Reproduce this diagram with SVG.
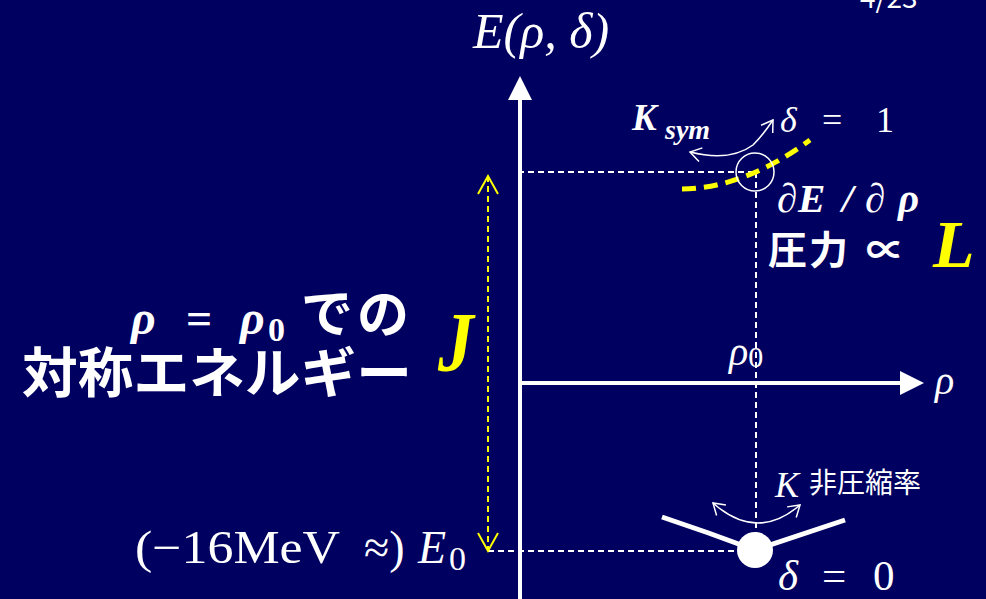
<svg xmlns="http://www.w3.org/2000/svg" width="986" height="599" viewBox="0 0 986 599">
<style>
.m{font-family:"Liberation Serif","DejaVu Serif",serif;fill:#fff}
.i{font-style:italic}
.b{font-weight:bold}
.s{font-family:"Noto Sans CJK JP","Noto Sans",sans-serif;fill:#fff}
.y{fill:#ff0}
.dash{stroke:#fff;stroke-width:2;stroke-dasharray:6 4;fill:none}
.ax{stroke:#fff;stroke-width:4;fill:none}
.thin{fill:none;stroke:#fff;stroke-width:1.5}
</style>
<defs>
<marker id="ah" markerWidth="6" markerHeight="6" refX="4" refY="3" orient="auto" markerUnits="strokeWidth"><path d="M0,0 L6,3 L0,6 Z" fill="#fff"/></marker>
<marker id="oa" markerWidth="16" markerHeight="16" refX="13" refY="8" orient="auto-start-reverse" markerUnits="userSpaceOnUse"><path d="M2,1 L13,8 L2,15" fill="none" stroke="#fff" stroke-width="1.5"/></marker>
<marker id="ya" markerWidth="22" markerHeight="22" refX="19" refY="11" orient="auto-start-reverse" markerUnits="userSpaceOnUse"><path d="M1,1 L19,11 L1,21" fill="none" stroke="#ff0" stroke-width="2"/></marker>
</defs>
<rect width="986" height="599" fill="#000060"/>
<g id="connectors">
<line class="ax" x1="520" y1="599" x2="520" y2="84" marker-end="url(#ah)"/>
<line class="ax" x1="520" y1="383" x2="916" y2="383" marker-end="url(#ah)"/>
<line class="dash" x1="518" y1="172" x2="756" y2="172"/>
<line class="dash" x1="756" y1="172" x2="756" y2="545"/>
<line class="dash" x1="488" y1="551" x2="740" y2="551"/>
<line x1="488" y1="176" x2="488" y2="551" stroke="#ff0" stroke-width="2" stroke-dasharray="6 4" marker-start="url(#ya)" marker-end="url(#ya)"/>
<path d="M682,189 Q745,188 810,140" fill="none" stroke="#ff0" stroke-width="5" stroke-dasharray="14 8"/>
<circle cx="755" cy="172" r="19" class="thin"/>
<path d="M690,152 Q730,162 753,145 Q763,135 773,120" class="thin" marker-start="url(#oa)" marker-end="url(#oa)"/>
<path d="M662,517 Q710,533 755,550 Q800,535 845,520" fill="none" stroke="#fff" stroke-width="5"/>
<circle cx="755" cy="550" r="18" fill="#fff"/>
<path d="M713,503 Q757,542 800,505" class="thin" marker-start="url(#oa)" marker-end="url(#oa)"/>
</g>
<g id="labels">
<text class="s" x="860" y="8" font-size="28">4/23</text>
<text class="m i" x="473" y="48" font-size="50">E(ρ, δ)</text>
<text class="m b i" x="632" y="130" font-size="37">K</text>
<text class="m b i" x="665" y="139" font-size="28">sym</text>
<text class="m" y="132" font-size="36"><tspan class="i" x="780">δ</tspan><tspan x="822">=</tspan><tspan x="876">1</tspan></text>
<text class="m b i" y="212" font-size="41"><tspan x="777">∂</tspan><tspan x="798">E</tspan><tspan x="842">/</tspan><tspan x="865">∂</tspan><tspan x="898">ρ</tspan></text>
<text class="s b" x="768" y="264" font-size="39" letter-spacing="2">圧力</text>
<text class="s b" x="866" y="264" font-size="39">∝</text>
<text class="m b i y" x="933" y="267" font-size="68">L</text>
<text class="m i" x="729" y="365" font-size="40">ρ<tspan font-style="normal" font-size="30" dy="2">0</tspan></text>
<text class="m i" x="935" y="394" font-size="40">ρ</text>
<text class="m b i" x="131" y="334" font-size="48">ρ</text>
<text class="m b" x="186" y="334" font-size="46">=</text>
<text class="m b i" x="240" y="334" font-size="48">ρ</text>
<text class="m b" x="268" y="341" font-size="34">0</text>
<text class="s b" x="301" y="333" font-size="52" letter-spacing="4">での</text>
<text class="s b" x="22" y="393" font-size="54" textLength="390" lengthAdjust="spacingAndGlyphs">対称エネルギー</text>
<text class="m b i y" transform="translate(438,371) scale(0.85,1)" font-size="84">J</text>
<text class="m" x="135" y="563" font-size="46" textLength="205" lengthAdjust="spacingAndGlyphs">(−16MeV</text>
<text class="m" x="364" y="563" font-size="46">≈)</text>
<text class="m i" x="418" y="563" font-size="46">E</text>
<text class="m" x="449" y="570" font-size="34">0</text>
<text class="m i" x="775" y="497" font-size="36">K</text>
<text class="s" x="809" y="493" font-size="28">非圧縮率</text>
<text class="m" y="590" font-size="43"><tspan class="i" x="778">δ</tspan><tspan x="822">=</tspan><tspan x="873">0</tspan></text>
</g>
</svg>
